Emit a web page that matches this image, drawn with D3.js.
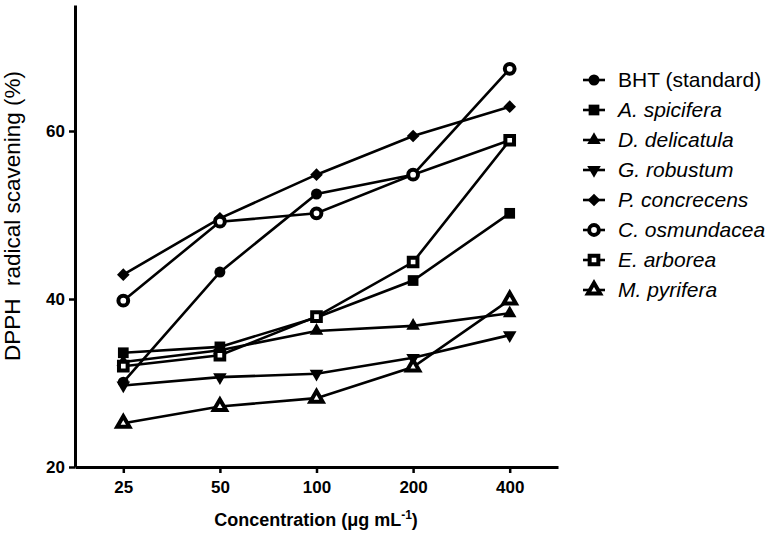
<!DOCTYPE html>
<html>
<head>
<meta charset="utf-8">
<script src="https://cdn.jsdelivr.net/npm/d3@7"></script>
<style>
  html, body { margin: 0; padding: 0; background: #fff; }
  svg { display: block; }
  text { font-family: "Liberation Sans", Arial, sans-serif; fill: #000; }
</style>
</head>
<body>
<svg id="chart" width="774" height="534"></svg>
<script>
// ---- data ----
const concentrations = ["25", "50", "100", "200", "400"];
const yTickValues = [20, 40, 60];
const seriesNames = ["BHT (standard)", "A. spicifera", "D. delicatula", "G. robustum",
                     "P. concrecens", "C. osmundacea", "E. arborea", "M. pyrifera"];
const bht         = [30.1, 43.2, 52.5, 54.8, 58.9];
const aSpicifera  = [33.6, 34.3, 37.8, 42.2, 50.2];
const dDelicatula = [32.5, 33.9, 36.2, 36.8, 38.3];
const gRobustum   = [29.7, 30.7, 31.1, 33.0, 35.7];
const pConcrecens = [42.9, 49.6, 54.8, 59.4, 62.9];
const cOsmundacea = [39.8, 49.2, 50.2, 54.8, 67.4];
const eArborea    = [32.0, 33.3, 37.9, 44.4, 58.9];
const mPyrifera   = [25.2, 27.2, 28.2, 31.9, 39.9];
const seriesValues = [bht, aSpicifera, dDelicatula, gRobustum, pConcrecens, cOsmundacea, eArborea, mPyrifera];
const markerKinds = ["circle", "square", "triangle", "triangleDown", "diamond", "openCircle", "openSquare", "openTriangle"];

// ---- layout ----
const svg = d3.select("#chart");
const x = d3.scalePoint().domain(concentrations).range([75, 558]).padding(0.5);
const y = d3.scaleLinear().domain([20, 75]).range([467, 5]);

function markerPath(kind) {
  switch (kind) {
    case "circle": return { d: d3.symbol(d3.symbolCircle, 95)(), rot: 0, open: false };
    case "square": return { d: d3.symbol(d3.symbolSquare, 115)(), rot: 0, open: false };
    case "triangle": return { d: d3.symbol(d3.symbolTriangle, 80)(), rot: 0, open: false };
    case "triangleDown": return { d: d3.symbol(d3.symbolTriangle, 80)(), rot: 180, open: false };
    case "diamond": return { d: d3.symbol(d3.symbolSquare, 80)(), rot: 45, open: false };
    case "openCircle": return { d: d3.symbol(d3.symbolCircle, 75)(), rot: 0, open: true };
    case "openSquare": return { d: d3.symbol(d3.symbolSquare, 75)(), rot: 0, open: true };
    case "openTriangle": return { d: d3.symbol(d3.symbolTriangle, 65)(), rot: 0, open: true };
  }
}

// axes
const yAxis = svg.append("g").attr("transform", "translate(75,0)")
  .call(d3.axisLeft(y).tickValues(yTickValues).tickSize(6).tickSizeOuter(0).tickPadding(4));
const xAxis = svg.append("g").attr("transform", "translate(0,467)")
  .call(d3.axisBottom(x).tickSize(6).tickSizeOuter(0).tickPadding(8));
[yAxis, xAxis].forEach(g => {
  g.select(".domain").attr("stroke", "#000").attr("stroke-width", 3);
  g.selectAll(".tick line").attr("stroke", "#000").attr("stroke-width", 2.5);
  g.selectAll(".tick text").attr("font-family", "Liberation Sans, Arial, sans-serif")
    .attr("font-size", 17).attr("font-weight", "bold").attr("fill", "#000");
});

// axis titles
svg.append("text")
  .attr("transform", "translate(20,216) rotate(-90)")
  .attr("text-anchor", "middle")
  .attr("font-size", 22.5)
  .attr("xml:space", "preserve")
  .text("DPPH  radical scavening (%)");

const xt = svg.append("text")
  .attr("x", 316).attr("y", 526)
  .attr("text-anchor", "middle")
  .attr("font-size", 18).attr("font-weight", "bold");
xt.append("tspan").text("Concentration (μg mL");
xt.append("tspan").attr("font-size", 12).attr("dy", -7).text("-1");
xt.append("tspan").attr("dy", 7).text(")");

// series
const line = d3.line().x((d, i) => x(concentrations[i])).y(d => y(d));
seriesValues.forEach((vals, si) => {
  const g = svg.append("g");
  g.append("path").attr("d", line(vals)).attr("fill", "none")
    .attr("stroke", "#000").attr("stroke-width", 2.6);
  const m = markerPath(markerKinds[si]);
  g.selectAll("path.mk").data(vals).enter().append("path").attr("class", "mk")
    .attr("d", m.d)
    .attr("transform", (d, i) => `translate(${x(concentrations[i])},${y(d)}) rotate(${m.rot})`)
    .attr("fill", m.open ? "#fff" : "#000")
    .attr("stroke", "#000")
    .attr("stroke-width", m.open ? 4 : 0);
});

// legend
const legend = svg.append("g");
seriesNames.forEach((name, i) => {
  const cy = 80 + i * 30;
  const g = legend.append("g");
  g.append("line").attr("x1", 583).attr("x2", 605).attr("y1", cy).attr("y2", cy)
    .attr("stroke", "#000").attr("stroke-width", 2.6);
  const m = markerPath(markerKinds[i]);
  g.append("path").attr("d", m.d)
    .attr("transform", `translate(594,${cy}) rotate(${m.rot})`)
    .attr("fill", m.open ? "#fff" : "#000")
    .attr("stroke", "#000").attr("stroke-width", m.open ? 4 : 0);
  g.append("text").attr("x", 618).attr("y", cy + 7)
    .attr("font-size", 21)
    .attr("font-style", i === 0 ? "normal" : "italic")
    .text(name);
});
</script>
</body>
</html>
